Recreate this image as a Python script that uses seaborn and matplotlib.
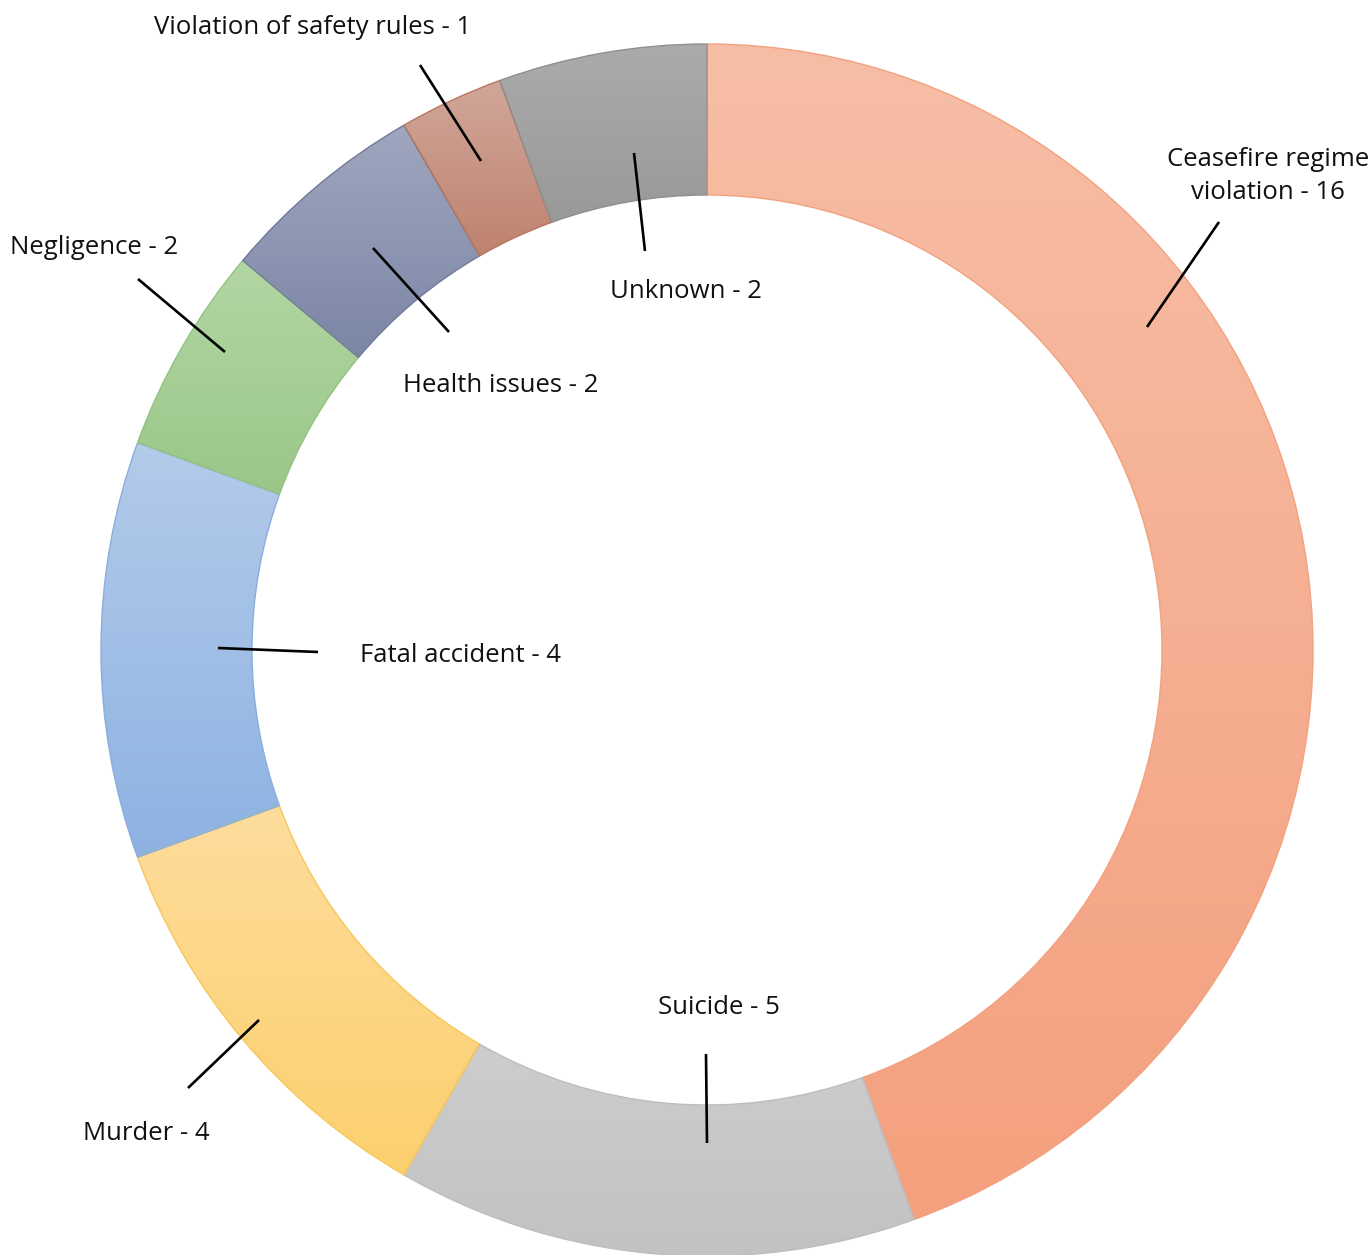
import numpy as np
import seaborn as sns
import matplotlib.pyplot as plt
from matplotlib.colors import to_rgb

# ------------------------------------------------------------
# Data
# ------------------------------------------------------------
categories = ['Ceasefire regime\nviolation', 'Suicide', 'Murder', 'Fatal accident',
              'Negligence', 'Health issues', 'Violation of safety rules', 'Unknown']
counts = [16, 5, 4, 4, 2, 2, 1, 2]

# gradient fill per slice (top colour -> bottom colour)
top_colors = ['#F7BEA6', '#CDCDCD', '#FEDC9C', '#B4CBEA', '#B3D6A3', '#A0A6BF', '#D1A79A', '#ABABAB']
bottom_colors = ['#F4A07E', '#C2C2C2', '#FCD06E', '#8DB2E2', '#9AC788', '#7B86A5', '#BF826E', '#999999']
edge_colors = ['#F2A27F', '#BDBDBD', '#F7C75A', '#8AAEDC', '#94C283', '#6F7A9C', '#B8765F', '#8F8F8F']

# label text positions and leader lines (figure pixels, y from top)
label_xy = [(1268, 176), (719, 1007), (146, 1133), (460, 656),
            (94, 248), (501, 386), (313, 28), (686, 291)]
leader_lines = [((1147, 327), (1219, 222)), ((706, 1054), (707, 1143)),
                ((259, 1020), (188, 1088)), ((218, 648), (318, 652)),
                ((138, 279), (225, 352)), ((373, 248), (449, 332)),
                ((420, 65), (481, 161)), ((634, 153), (645, 251))]

W, H = 1371, 1255
center = (707, H - 650)
outer_r, ring_w = 606, 151

# ------------------------------------------------------------
# Plot
# ------------------------------------------------------------
sns.set_theme(style='white')
plt.rcParams['font.family'] = ['Open Sans', 'DejaVu Sans']

fig = plt.figure(figsize=(W / 100, H / 100), dpi=100)
ax = fig.add_axes([0, 0, 1, 1])

wedges, _ = ax.pie(counts, startangle=90, counterclock=False, center=center,
                   radius=outer_r, wedgeprops=dict(width=ring_w, linewidth=1.0))

for wedge, c_top, c_bot, c_edge in zip(wedges, top_colors, bottom_colors, edge_colors):
    ext = wedge.get_path().get_extents()
    grad = np.linspace(0, 1, 256)[:, None]
    top, bot = np.array(to_rgb(c_top)), np.array(to_rgb(c_bot))
    img = (top[None, None, :] * (1 - grad[..., None]) + bot[None, None, :] * grad[..., None])
    im = ax.imshow(img, extent=(ext.x0, ext.x1, ext.y0, ext.y1), origin='upper',
                   aspect='auto', interpolation='bilinear', zorder=1)
    im.set_clip_path(wedge)
    wedge.set_facecolor('none')
    wedge.set_edgecolor(c_edge)
    wedge.set_zorder(2)

for name, n, (lx, ly), (p0, p1) in zip(categories, counts, label_xy, leader_lines):
    ax.plot([p0[0], p1[0]], [H - p0[1], H - p1[1]], color='black', lw=1.9,
            solid_capstyle='butt', zorder=3)
    ax.text(lx, H - ly, f'{name} - {n}', ha='center', va='center', fontsize=18.5,
            color='#111111', linespacing=1.38, zorder=4)

ax.set_xlim(0, W)
ax.set_ylim(0, H)
ax.set_aspect('equal')
ax.axis('off')

plt.savefig('out.png', dpi=100)
